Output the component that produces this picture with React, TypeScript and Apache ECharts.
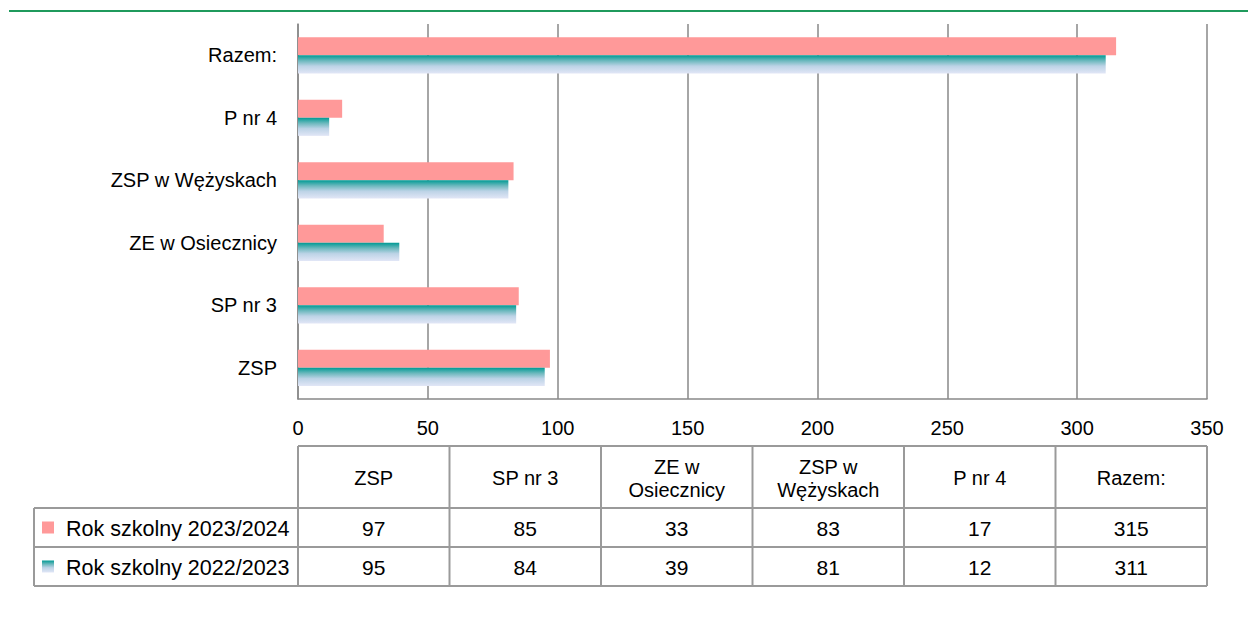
import React, { useEffect, useRef } from "react";
import * as echarts from "echarts";

const categories = ["ZSP", "SP nr 3", "ZE w Osiecznicy", "ZSP w Wężyskach", "P nr 4", "Razem:"];
const tableHeaders = ["ZSP", "SP nr 3", "ZE w\nOsiecznicy", "ZSP w\nWężyskach", "P nr 4", "Razem:"];
const seriesNames = ["Rok szkolny 2023/2024", "Rok szkolny 2022/2023"];
const values2324 = [97, 85, 33, 83, 17, 315];
const values2223 = [95, 84, 39, 81, 12, 311];
const xMin = 0;
const xMax = 350;
const xInterval = 50;

const FONT = '"Liberation Sans", Arial, sans-serif';
const PINK = "#ff9999";
const tealGradient = () =>
  new echarts.graphic.LinearGradient(0, 0, 0, 1, [
    { offset: 0, color: "#009a94" },
    { offset: 0.3, color: "#6bb8bd" },
    { offset: 0.6, color: "#bcd3e6" },
    { offset: 1, color: "#e1e6f6" },
  ]);

const W = 1248;
const H = 623;
const GL = 298;
const GR = 1207;
const GT = 24;
const GB = 399;

export default function App() {
  const ref = useRef<HTMLDivElement>(null);
  useEffect(() => {
    document.body.style.margin = "0";
    const chart = echarts.init(ref.current!, null, { renderer: "svg" });

    const colW = (GR - GL) / categories.length;
    const tTop = 446;
    const r1 = 508;
    const r2 = 547;
    const tBot = 586;
    const tLeft = 34;
    const lineStyle = { stroke: "#9a9a9a", lineWidth: 2 };
    const fs = 20;
    const g: any[] = [];

    // green rule at top
    g.push({ type: "line", shape: { x1: 9, y1: 11, x2: W, y2: 11 }, style: { stroke: "#1f9a5c", lineWidth: 2 } });

    // table horizontal lines
    g.push({ type: "line", shape: { x1: GL, y1: tTop, x2: GR, y2: tTop }, style: lineStyle });
    [r1, r2, tBot].forEach((y) =>
      g.push({ type: "line", shape: { x1: tLeft, y1: y, x2: GR, y2: y }, style: lineStyle })
    );
    // verticals
    g.push({ type: "line", shape: { x1: tLeft, y1: r1, x2: tLeft, y2: tBot }, style: lineStyle });
    for (let i = 0; i <= categories.length; i++) {
      const x = GL + colW * i;
      g.push({ type: "line", shape: { x1: x, y1: tTop, x2: x, y2: tBot }, style: lineStyle });
    }
    const txt = (text: string, x: number, y: number, align = "center", size = fs) => ({
      type: "text",
      x,
      y,
      style: {
        text,
        fill: "#000",
        fontSize: size,
        fontFamily: FONT,
        lineHeight: 23,
        align,
        verticalAlign: "middle",
        textAlign: align,
        textVerticalAlign: "middle",
      },
    });
    tableHeaders.forEach((h, i) => g.push(txt(h, GL + colW * (i + 0.5), (tTop + r1) / 2 + 1)));
    values2324.forEach((v, i) => g.push(txt(String(v), GL + colW * (i + 0.5), (r1 + r2) / 2 + 1, "center", 21)));
    values2223.forEach((v, i) => g.push(txt(String(v), GL + colW * (i + 0.5), (r2 + tBot) / 2 + 1, "center", 21)));
    g.push(txt(seriesNames[0], 66, (r1 + r2) / 2 + 1, "left", 21.5));
    g.push(txt(seriesNames[1], 66, (r2 + tBot) / 2 + 1, "left", 21.5));
    g.push({ type: "rect", shape: { x: 42, y: (r1 + r2) / 2 - 6, width: 12, height: 12 }, style: { fill: PINK } });
    g.push({ type: "rect", shape: { x: 42, y: (r2 + tBot) / 2 - 6, width: 12, height: 12 }, style: { fill: tealGradient() } });

    chart.setOption({
      animation: false,
      textStyle: { fontFamily: FONT },
      grid: { left: GL, right: W - GR, top: GT, bottom: H - GB, containLabel: false },
      xAxis: {
        type: "value",
        min: xMin,
        max: xMax,
        interval: xInterval,
        axisLine: { show: true, lineStyle: { color: "#888", width: 1.5 } },
        axisTick: { show: false },
        splitLine: { show: true, lineStyle: { color: "#888", width: 1.5 } },
        axisLabel: { color: "#000", fontSize: fs, fontFamily: FONT, margin: 19 },
      },
      yAxis: {
        type: "category",
        data: categories,
        axisLine: { show: true, lineStyle: { color: "#888", width: 1.5 } },
        axisTick: { show: false },
        axisLabel: { color: "#000", fontSize: fs, fontFamily: FONT, margin: 21 },
      },
      series: [
        {
          name: seriesNames[0],
          type: "bar",
          data: values2324,
          barGap: "0%",
          barCategoryGap: "42%",
          itemStyle: { color: PINK },
        },
        {
          name: seriesNames[1],
          type: "bar",
          data: values2223,
          barGap: "0%",
          barCategoryGap: "42%",
          itemStyle: { color: tealGradient() },
        },
      ],
      graphic: g,
    });
    return () => chart.dispose();
  }, []);
  return <div ref={ref} style={{ position: "fixed", left: 0, top: 0, width: W, height: H, background: "#fff" }} />;
}
